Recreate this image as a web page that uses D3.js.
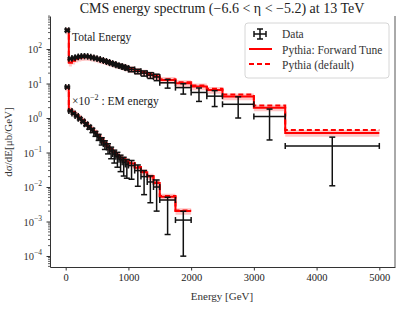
<!DOCTYPE html>
<html>
<head>
<meta charset="utf-8">
<script src="https://cdn.jsdelivr.net/npm/d3@7"></script>
<style>
  body { margin: 0; background: #fff; }
  text { font-family: "Liberation Serif", "DejaVu Serif", serif; fill: #222; }
</style>
</head>
<body>
<svg id="chart" width="399" height="316"></svg>
<script>
"use strict";

// bin edges (GeV)
const totalEdges = [0, 50, 100, 150, 200, 250, 300, 350, 400, 450, 500, 550, 600, 650, 700, 750, 800, 850, 900, 950, 1000,
  1100, 1200, 1300, 1400, 1500, 1750, 2000, 2250, 2500, 3000, 3500, 5000];
const emEdges = [0, 50, 100, 150, 200, 250, 300, 350, 400, 450, 500, 550, 600, 650, 700, 750, 800, 850, 900, 950, 1000,
  1100, 1200, 1300, 1400, 1500, 1750, 2000];

// total energy
const totalData = [350, 52, 55, 58, 61, 62, 62, 60, 57, 54, 51, 48, 45, 42, 39, 36.5, 34, 32, 30, 28,
  25.5, 22.5, 20, 17.5, 15.5, 10.5, 7.6, 5.5, 4.3, 2.5, 1.1, 0.155];
const totalErrUp = [0.08, 0.06, 0.06, 0.06, 0.06, 0.06, 0.06, 0.06, 0.07, 0.07, 0.07, 0.08, 0.08, 0.09, 0.09, 0.1, 0.1, 0.11, 0.12, 0.12,
  0.14, 0.15, 0.16, 0.18, 0.2, 0.25, 0.3, 0.35, 0.45, 0.65, 0.65, 0.8];
const totalErrDown = [0.08, 0.06, 0.06, 0.06, 0.06, 0.06, 0.06, 0.06, 0.07, 0.07, 0.07, 0.08, 0.08, 0.09, 0.09, 0.1, 0.1, 0.11, 0.12, 0.12,
  0.14, 0.15, 0.18, 0.2, 0.22, 0.3, 0.35, 0.45, 0.5, 0.6, 0.79, 0.93];
const totalForward = [340, 40, 46, 52, 56, 58, 59, 58, 56, 53, 50, 47.5, 45, 42, 39.5, 37, 34.5, 32.5, 30.5, 28.5,
  26, 23, 20.5, 18, 16, 12.6, 10.2, 8.2, 6.5, 4.2, 2.0, 0.37];
const totalDefault = [360, 42, 47, 53, 57, 59, 60, 59, 57, 54, 51, 48.5, 46, 43, 40.5, 38, 35.5, 33.5, 31.5, 29.5,
  27, 24, 21.5, 19, 17, 13.3, 10.9, 8.8, 7.0, 4.8, 2.3, 0.45];

// EM energy (x 10^-2)
const emData = [7.9, 1.6, 1.35, 1.15, 0.95, 0.8, 0.66, 0.54, 0.44, 0.35, 0.28, 0.22, 0.175, 0.14, 0.11, 0.09, 0.075, 0.062, 0.052, 0.045,
  0.042, 0.03, 0.02, 0.014, 0.01, 0.0042, 0.0011];
const emErrUp = [0.06, 0.05, 0.05, 0.06, 0.07, 0.08, 0.1, 0.12, 0.14, 0.16, 0.2, 0.22, 0.25, 0.28, 0.3, 0.3, 0.35, 0.35, 0.4, 0.4,
  0.4, 0.45, 0.5, 0.5, 0.6, 0.2, 0.8];
const emErrDown = [0.06, 0.05, 0.05, 0.06, 0.07, 0.08, 0.1, 0.12, 0.14, 0.16, 0.2, 0.25, 0.3, 0.35, 0.4, 0.45, 0.5, 0.55, 0.6, 0.6,
  0.6, 0.65, 0.7, 0.75, 0.8, 0.9, 0.91];
const emForward = [7.5, 1.7, 1.45, 1.22, 1.02, 0.85, 0.7, 0.58, 0.47, 0.38, 0.3, 0.24, 0.19, 0.15, 0.12, 0.1, 0.083, 0.072, 0.063, 0.056,
  0.048, 0.036, 0.027, 0.02, 0.013, 0.0052, 0.002];
const emDefault = [7.8, 1.75, 1.5, 1.26, 1.05, 0.88, 0.72, 0.6, 0.49, 0.4, 0.31, 0.25, 0.2, 0.156, 0.125, 0.104, 0.086, 0.075, 0.065, 0.058,
  0.05, 0.038, 0.028, 0.021, 0.0135, 0.0055, 0.0021];

const bandRel = 0.22;

const xTicks = [0, 1000, 2000, 3000, 4000, 5000];
const yDecades = [-4, -3, -2, -1, 0, 1, 2];

const margin = {left: 50, right: 395, top: 16, bottom: 267};
const svg = d3.select("#chart");

const x = d3.scaleLinear().domain([-250, 5250]).range([margin.left, margin.right]);
const y = d3.scaleLog().domain([4.8e-5, 906]).range([margin.bottom, margin.top]);

// title
svg.append("text")
  .attr("x", 222).attr("y", 13)
  .attr("text-anchor", "middle")
  .style("font-size", "14px")
  .text("CMS energy spectrum (\u22126.6 < \u03b7 < \u22125.2) at 13 TeV");

const plot = svg.append("g");

function stepPoints(edges, vals, scale) {
  const pts = [];
  for (let i = 0; i < vals.length; i++) {
    pts.push([edges[i], vals[i] * scale]);
    pts.push([edges[i + 1], vals[i] * scale]);
  }
  return pts;
}

const line = d3.line().x(d => x(d[0])).y(d => y(d[1]));
const band = d3.area().x(d => x(d[0])).y0(d => y(d[1] * (1 - bandRel))).y1(d => y(d[1] * (1 + bandRel)));

function drawSeries(edges, fwd, dflt, data, errUp, errDown) {
  const fp = stepPoints(edges, fwd, 1);
  plot.append("path").attr("d", band(fp))
    .style("fill", "#ff0000").style("fill-opacity", 0.22).style("stroke", "none");
  plot.append("path").attr("d", line(fp))
    .style("fill", "none").style("stroke", "#ff0000").style("stroke-width", 2);
  plot.append("path").attr("d", line(stepPoints(edges, dflt, 1)))
    .style("fill", "none").style("stroke", "#ff0000").style("stroke-width", 2)
    .style("stroke-dasharray", "5,3");

  const g = plot.append("g").style("stroke", "#111").style("stroke-width", 1.5);
  data.forEach((v, i) => {
    const xl = x(edges[i]), xr = x(edges[i + 1]), xc = (xl + xr) / 2;
    const yc = y(v), yt = y(v * (1 + errUp[i])), yb = y(v * (1 - errDown[i]));
    g.append("line").attr("x1", xl).attr("x2", xr).attr("y1", yc).attr("y2", yc);
    g.append("line").attr("x1", xc).attr("x2", xc).attr("y1", yt).attr("y2", yb);
    g.append("line").attr("x1", xc - 3).attr("x2", xc + 3).attr("y1", yt).attr("y2", yt);
    g.append("line").attr("x1", xc - 3).attr("x2", xc + 3).attr("y1", yb).attr("y2", yb);
    g.append("line").attr("x1", xl).attr("x2", xl).attr("y1", yc - 3).attr("y2", yc + 3);
    g.append("line").attr("x1", xr).attr("x2", xr).attr("y1", yc - 3).attr("y2", yc + 3);
  });
}

drawSeries(totalEdges, totalForward, totalDefault, totalData, totalErrUp, totalErrDown);
drawSeries(emEdges, emForward, emDefault, emData, emErrUp, emErrDown);

// annotations
svg.append("text").attr("x", 72).attr("y", 41).style("font-size", "11.5px").text("Total Energy");
const em = svg.append("text").attr("x", 72).attr("y", 105).style("font-size", "11.5px");
em.append("tspan").text("\u00d710");
em.append("tspan").attr("dy", -5).style("font-size", "8px").text("\u22122");
em.append("tspan").attr("dy", 5).text(" : EM energy");

// axes
const xAxis = svg.append("g")
  .attr("transform", `translate(0,${margin.bottom})`)
  .call(d3.axisBottom(x).tickValues(xTicks).tickFormat(d3.format("d"))
    .tickSize(3.5).tickSizeOuter(0).tickPadding(3));
xAxis.selectAll("text").style("font-size", "10.5px").style("font-family", "Liberation Serif, serif").attr("fill", "#333");

const yAxis = svg.append("g")
  .attr("transform", `translate(${margin.left},0)`)
  .call(d3.axisLeft(y).tickValues(yDecades.map(d => Math.pow(10, d))).tickSize(3.5).tickSizeOuter(0).tickFormat(""));

const minor = [];
for (let d = -5; d <= 2; d++) {
  for (let k = 2; k <= 9; k++) {
    const v = k * Math.pow(10, d);
    if (v > y.domain()[0] && v < y.domain()[1]) minor.push(v);
  }
}
yAxis.selectAll(".minor").data(minor).enter().append("line")
  .attr("class", "minor")
  .attr("x1", -2).attr("x2", 0)
  .attr("y1", d => y(d)).attr("y2", d => y(d))
  .style("stroke", "#333").style("stroke-width", 0.8);

yDecades.forEach(d => {
  const t = svg.append("text")
    .attr("x", 42).attr("y", y(Math.pow(10, d)) + 4)
    .attr("text-anchor", "end")
    .style("font-size", "10.5px").style("fill", "#333");
  t.append("tspan").text("10");
  t.append("tspan").attr("dy", -5).style("font-size", "7.5px").text(d < 0 ? "\u2212" + (-d) : String(d));
});

svg.selectAll(".domain").style("stroke", "#333");
svg.selectAll(".tick line").style("stroke", "#333");

// right spine
svg.append("line")
  .attr("x1", margin.right).attr("x2", margin.right)
  .attr("y1", margin.top).attr("y2", margin.bottom)
  .style("stroke", "#555").style("stroke-width", 1);

// axis labels
svg.append("text")
  .attr("x", 222).attr("y", 300)
  .attr("text-anchor", "middle")
  .style("font-size", "11px").style("fill", "#333")
  .text("Energy [GeV]");

svg.append("text")
  .attr("transform", "translate(12,142) rotate(-90)")
  .attr("text-anchor", "middle")
  .style("font-size", "11px").style("fill", "#333")
  .text("d\u03c3/dE[\u03bcb/GeV]");

// legend
const lg = svg.append("g");
lg.append("rect")
  .attr("x", 245).attr("y", 23).attr("width", 144).attr("height", 55)
  .attr("rx", 3)
  .style("fill", "#fff").style("fill-opacity", 0.85)
  .style("stroke", "#ccc").style("stroke-width", 0.8);

const lgData = lg.append("g").style("stroke", "#111").style("stroke-width", 1.5);
lgData.append("line").attr("x1", 254).attr("x2", 266).attr("y1", 34).attr("y2", 34);
lgData.append("line").attr("x1", 260).attr("x2", 260).attr("y1", 29).attr("y2", 39);
lgData.append("line").attr("x1", 257).attr("x2", 263).attr("y1", 29).attr("y2", 29);
lgData.append("line").attr("x1", 257).attr("x2", 263).attr("y1", 39).attr("y2", 39);
lgData.append("line").attr("x1", 254).attr("x2", 254).attr("y1", 31).attr("y2", 37);
lgData.append("line").attr("x1", 266).attr("x2", 266).attr("y1", 31).attr("y2", 37);

lg.append("line").attr("x1", 249).attr("x2", 272).attr("y1", 49).attr("y2", 49)
  .style("stroke", "#ff0000").style("stroke-width", 2);
lg.append("line").attr("x1", 249).attr("x2", 272).attr("y1", 64).attr("y2", 64)
  .style("stroke", "#ff0000").style("stroke-width", 2).style("stroke-dasharray", "5,3");

const lgLabels = ["Data", "Pythia: Forward Tune", "Pythia (default)"];
lgLabels.forEach((s, i) => {
  lg.append("text")
    .attr("x", 282).attr("y", 38 + i * 15.5)
    .style("font-size", "11.5px").style("fill", "#333")
    .text(s);
});
</script>
</body>
</html>
